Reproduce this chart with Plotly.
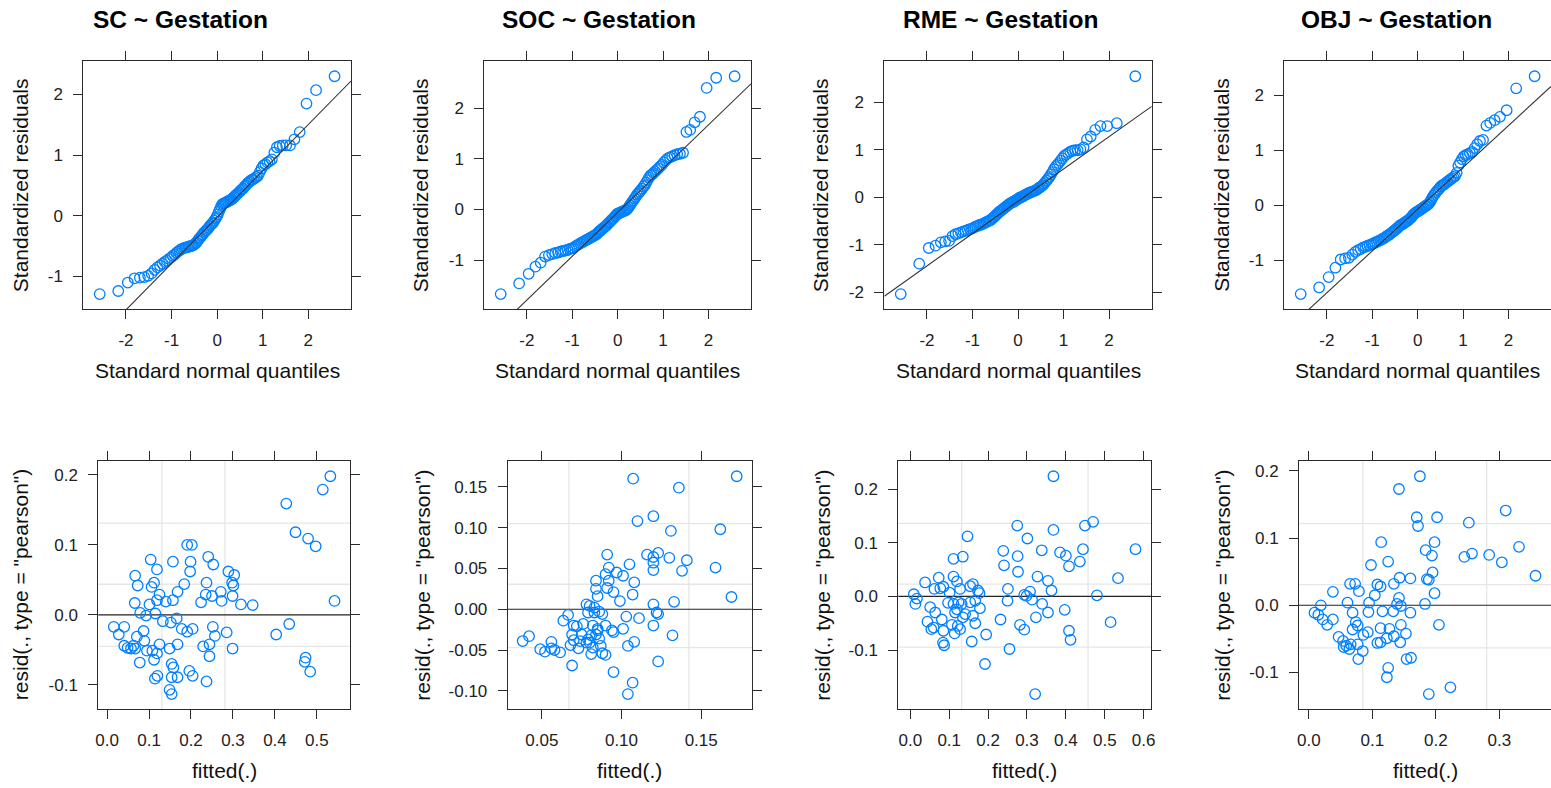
import plotly.graph_objects as go

W, H = 1551, 788
FONT = "Liberation Sans, Arial, Helvetica, sans-serif"
FRAME = "#2b2b2b"
POINT = "#0080ff"
GRID = "#e6e6e6"

models = ["SC", "SOC", "RME", "OBJ"]

# theoretical standard normal quantiles for n = 100
normal_quantiles = [
    -2.576, -2.170, -1.960, -1.812, -1.695, -1.598, -1.514, -1.440, -1.372, -1.311,
    -1.254, -1.200, -1.150, -1.103, -1.058, -1.015, -0.974, -0.935, -0.896, -0.860,
    -0.824, -0.789, -0.755, -0.722, -0.690, -0.659, -0.628, -0.598, -0.568, -0.539,
    -0.510, -0.482, -0.454, -0.426, -0.399, -0.372, -0.345, -0.319, -0.292, -0.266,
    -0.240, -0.215, -0.189, -0.164, -0.138, -0.113, -0.088, -0.063, -0.038, -0.013,
    0.013, 0.038, 0.063, 0.088, 0.113, 0.138, 0.164, 0.189, 0.215, 0.240,
    0.266, 0.292, 0.319, 0.345, 0.372, 0.399, 0.426, 0.454, 0.482, 0.510,
    0.539, 0.568, 0.598, 0.628, 0.659, 0.690, 0.722, 0.755, 0.789, 0.824,
    0.860, 0.896, 0.935, 0.974, 1.015, 1.058, 1.103, 1.150, 1.200, 1.254,
    1.311, 1.372, 1.440, 1.514, 1.598, 1.695, 1.812, 1.960, 2.170, 2.576,
]

# sorted standardized residuals per model
sc_std_resid = [
    -1.29, -1.24, -1.10, -1.03, -1.02, -1.01, -0.99, -0.95, -0.89, -0.85,
    -0.82, -0.79, -0.76, -0.74, -0.71, -0.69, -0.66, -0.64, -0.61, -0.59,
    -0.57, -0.55, -0.54, -0.53, -0.52, -0.52, -0.51, -0.50, -0.50, -0.49,
    -0.48, -0.46, -0.44, -0.41, -0.38, -0.36, -0.33, -0.31, -0.28, -0.26,
    -0.24, -0.22, -0.20, -0.17, -0.15, -0.13, -0.11, -0.08, -0.05, -0.02,
    0.02, 0.07, 0.11, 0.16, 0.19, 0.20, 0.21, 0.22, 0.23, 0.24,
    0.25, 0.26, 0.27, 0.29, 0.31, 0.33, 0.35, 0.37, 0.39, 0.41,
    0.43, 0.45, 0.48, 0.50, 0.53, 0.55, 0.57, 0.59, 0.60, 0.62,
    0.64, 0.66, 0.72, 0.78, 0.83, 0.85, 0.88, 0.90, 0.93, 1.04,
    1.13, 1.15, 1.16, 1.16, 1.16, 1.26, 1.38, 1.85, 2.07, 2.30,
]
soc_std_resid = [
    -1.67, -1.46, -1.27, -1.13, -1.05, -0.93, -0.90, -0.88, -0.86, -0.85,
    -0.83, -0.82, -0.81, -0.80, -0.78, -0.77, -0.76, -0.73, -0.71, -0.69,
    -0.67, -0.65, -0.64, -0.62, -0.60, -0.59, -0.57, -0.56, -0.54, -0.53,
    -0.51, -0.50, -0.48, -0.45, -0.43, -0.41, -0.39, -0.37, -0.35, -0.33,
    -0.31, -0.28, -0.26, -0.24, -0.21, -0.19, -0.17, -0.14, -0.12, -0.09,
    -0.08, -0.07, -0.06, -0.05, -0.04, -0.03, -0.02, -0.01, 0.01, 0.04,
    0.08, 0.11, 0.15, 0.18, 0.22, 0.25, 0.29, 0.32, 0.35, 0.38,
    0.41, 0.45, 0.48, 0.53, 0.58, 0.63, 0.67, 0.69, 0.72, 0.75,
    0.78, 0.81, 0.85, 0.88, 0.93, 0.97, 1.01, 1.03, 1.05, 1.07,
    1.09, 1.10, 1.12, 1.53, 1.57, 1.72, 1.83, 2.40, 2.60, 2.63,
]
rme_std_resid = [
    -2.04, -1.40, -1.07, -1.02, -0.95, -0.93, -0.92, -0.82, -0.78, -0.76,
    -0.74, -0.72, -0.71, -0.69, -0.67, -0.66, -0.64, -0.62, -0.61, -0.59,
    -0.58, -0.57, -0.55, -0.54, -0.52, -0.51, -0.49, -0.48, -0.45, -0.43,
    -0.40, -0.37, -0.35, -0.32, -0.30, -0.28, -0.26, -0.24, -0.22, -0.20,
    -0.18, -0.16, -0.14, -0.13, -0.11, -0.10, -0.09, -0.07, -0.06, -0.04,
    -0.03, -0.01, 0.00, 0.01, 0.02, 0.04, 0.05, 0.06, 0.08, 0.09,
    0.10, 0.11, 0.12, 0.13, 0.14, 0.15, 0.17, 0.19, 0.21, 0.23,
    0.25, 0.28, 0.32, 0.35, 0.39, 0.43, 0.48, 0.53, 0.59, 0.64,
    0.68, 0.72, 0.77, 0.82, 0.87, 0.90, 0.93, 0.96, 0.98, 0.99,
    0.99, 1.01, 1.05, 1.22, 1.28, 1.42, 1.50, 1.50, 1.56, 2.55,
]
obj_std_resid = [
    -1.62, -1.50, -1.31, -1.14, -0.99, -0.97, -0.96, -0.90, -0.85, -0.82,
    -0.80, -0.77, -0.76, -0.74, -0.73, -0.71, -0.70, -0.68, -0.67, -0.65,
    -0.64, -0.62, -0.61, -0.59, -0.57, -0.55, -0.54, -0.52, -0.50, -0.48,
    -0.46, -0.44, -0.42, -0.40, -0.38, -0.36, -0.35, -0.34, -0.32, -0.31,
    -0.29, -0.28, -0.26, -0.24, -0.22, -0.19, -0.17, -0.15, -0.13, -0.12,
    -0.11, -0.09, -0.08, -0.07, -0.05, -0.04, -0.02, -0.01, 0.01, 0.02,
    0.05, 0.09, 0.13, 0.17, 0.20, 0.23, 0.26, 0.28, 0.31, 0.34,
    0.36, 0.37, 0.39, 0.41, 0.43, 0.45, 0.47, 0.49, 0.51, 0.53,
    0.59, 0.72, 0.78, 0.84, 0.89, 0.91, 0.93, 0.95, 0.97, 1.04,
    1.11, 1.17, 1.19, 1.45, 1.50, 1.55, 1.61, 1.73, 2.13, 2.35,
]

# reference line through the quartiles (intercept, slope)
qq_intercept = [-0.023, -0.059, -0.085, -0.073]
qq_slope = [0.764, 0.865, 0.681, 0.762]

# fitted values and Pearson residuals
sc_fitted = [
    0.532, 0.514, 0.427, 0.449, 0.479, 0.497, 0.542, 0.403, 0.434, 0.473, 0.471, 0.484,
    0.191, 0.202, 0.199, 0.198, 0.157, 0.104, 0.119, 0.067, 0.073, 0.112, 0.106, 0.241,
    0.253, 0.289, 0.303, 0.298, 0.301, 0.299, 0.237, 0.235, 0.250, 0.271, 0.273, 0.224,
    0.319, 0.347, 0.184, 0.168, 0.157, 0.125, 0.119, 0.140, 0.066, 0.101, 0.079, 0.093,
    0.115, 0.133, 0.152, 0.166, 0.178, 0.191, 0.204, 0.016, 0.028, 0.041, 0.087, 0.089,
    0.071, 0.041, 0.049, 0.057, 0.063, 0.067, 0.095, 0.108, 0.125, 0.119, 0.112, 0.078,
    0.149, 0.168, 0.252, 0.257, 0.285, 0.299, 0.229, 0.244, 0.244, 0.154, 0.158, 0.154,
    0.168, 0.120, 0.114, 0.196, 0.204, 0.237, 0.149, 0.154,
]
sc_pearson = [
    0.198, 0.179, 0.159, 0.118, 0.109, 0.098, 0.020, -0.028, -0.013, -0.061, -0.067, -0.081,
    0.100, 0.100, 0.076, 0.062, 0.076, 0.079, 0.065, 0.056, 0.042, 0.046, 0.040, 0.083,
    0.072, 0.062, 0.057, 0.046, 0.042, 0.027, 0.046, 0.029, 0.027, 0.033, 0.020, 0.018,
    0.015, 0.014, 0.044, 0.033, 0.021, 0.029, 0.021, 0.019, 0.017, 0.015, 0.003, -0.001,
    0.002, -0.009, -0.011, -0.005, -0.020, -0.024, -0.020, -0.017, -0.028, -0.017, -0.023, -0.037,
    -0.031, -0.044, -0.047, -0.048, -0.044, -0.048, -0.051, -0.051, -0.042, -0.055, -0.064, -0.068,
    -0.048, -0.042, -0.017, -0.030, -0.025, -0.048, -0.045, -0.042, -0.059, -0.070, -0.075, -0.089,
    -0.089, -0.087, -0.091, -0.080, -0.087, -0.095, -0.107, -0.113,
]

soc_fitted = [
    0.1073, 0.1723, 0.136, 0.120, 0.110, 0.131, 0.162, 0.091, 0.116, 0.120, 0.123, 0.130,
    0.141, 0.120, 0.120, 0.138, 0.159, 0.105, 0.092, 0.090, 0.097, 0.101, 0.084, 0.092,
    0.108, 0.084, 0.091, 0.095, 0.085, 0.107, 0.099, 0.169, 0.133, 0.120, 0.078, 0.080,
    0.083, 0.079, 0.083, 0.086, 0.088, 0.103, 0.111, 0.123, 0.122, 0.0665, 0.0635, 0.070,
    0.072, 0.076, 0.082, 0.085, 0.090, 0.120, 0.101, 0.094, 0.095, 0.069, 0.075, 0.081,
    0.084, 0.085, 0.086, 0.079, 0.074, 0.070, 0.068, 0.073, 0.080, 0.087, 0.082, 0.081,
    0.088, 0.090, 0.104, 0.108, 0.132, 0.123, 0.038, 0.042, 0.049, 0.052, 0.056, 0.056,
    0.058, 0.0615, 0.069, 0.095, 0.107, 0.104, 0.078,
]
soc_pearson = [
    0.160, 0.163, 0.149, 0.114, 0.108, 0.096, 0.098, 0.067, 0.067, 0.064, 0.069, 0.063,
    0.060, 0.057, 0.048, 0.047, 0.051, 0.055, 0.051, 0.043, 0.045, 0.041, 0.035, 0.035,
    0.033, 0.025, 0.026, 0.021, 0.016, 0.018, 0.010, 0.015, 0.009, 0.006, 0.006, 0.004,
    0.002, -0.004, -0.004, -0.003, -0.006, -0.009, -0.011, -0.006, -0.004, -0.007, -0.014, -0.020,
    -0.021, -0.018, -0.020, -0.024, -0.020, -0.020, -0.024, -0.026, -0.028, -0.031, -0.031, -0.032,
    -0.031, -0.026, -0.036, -0.037, -0.039, -0.038, -0.044, -0.048, -0.041, -0.045, -0.047, -0.055,
    -0.054, -0.056, -0.045, -0.040, -0.032, -0.064, -0.039, -0.033, -0.049, -0.052, -0.048, -0.040,
    -0.050, -0.053, -0.069, -0.077, -0.090, -0.104, -0.041,
]

rme_fitted = [
    0.368, 0.275, 0.368, 0.449, 0.470, 0.301, 0.147, 0.239, 0.338, 0.385, 0.400, 0.444,
    0.579, 0.276, 0.111, 0.135, 0.241, 0.408, 0.436, 0.277, 0.327, 0.534, 0.354, 0.073,
    0.038, 0.111, 0.120, 0.154, 0.161, 0.085, 0.062, 0.077, 0.128, 0.174, 0.178, 0.251,
    0.308, 0.363, 0.009, 0.017, 0.013, 0.101, 0.299, 0.293, 0.480, 0.313, 0.250, 0.097,
    0.111, 0.124, 0.132, 0.154, 0.167, 0.115, 0.120, 0.064, 0.051, 0.135, 0.161, 0.141,
    0.179, 0.339, 0.354, 0.397, 0.323, 0.232, 0.167, 0.044, 0.060, 0.054, 0.081, 0.085,
    0.107, 0.122, 0.114, 0.128, 0.282, 0.293, 0.515, 0.408, 0.412, 0.195, 0.158, 0.084,
    0.087, 0.255, 0.192, 0.321,
]
rme_pearson = [
    0.224, 0.132, 0.124, 0.132, 0.139, 0.108, 0.112, 0.085, 0.086, 0.082, 0.076, 0.088,
    0.088, 0.075, 0.070, 0.074, 0.058, 0.056, 0.065, 0.046, 0.037, 0.034, 0.029, 0.035,
    0.026, 0.037, 0.028, 0.019, 0.023, 0.018, 0.014, 0.015, 0.014, 0.011, 0.006, 0.014,
    0.009, 0.011, 0.004, -0.004, -0.014, 0.007, 0.001, 0.003, 0.002, -0.006, -0.008, -0.012,
    -0.014, -0.011, -0.014, -0.011, -0.008, -0.030, -0.024, -0.030, -0.020, -0.039, -0.036, -0.033,
    -0.022, -0.014, -0.030, -0.025, -0.039, -0.043, -0.050, -0.047, -0.058, -0.061, -0.043, -0.064,
    -0.053, -0.055, -0.069, -0.061, -0.053, -0.062, -0.048, -0.064, -0.081, -0.071, -0.084, -0.086,
    -0.091, -0.098, -0.126, -0.182,
]

obj_fitted = [
    0.175, 0.142, 0.170, 0.172, 0.202, 0.310, 0.252, 0.114, 0.198, 0.184, 0.194, 0.331,
    0.245, 0.257, 0.284, 0.304, 0.125, 0.098, 0.195, 0.186, 0.189, 0.160, 0.143, 0.357,
    0.134, 0.065, 0.073, 0.079, 0.108, 0.113, 0.104, 0.038, 0.198, 0.095, 0.061, 0.142,
    0.139, 0.145, 0.183, 0.019, 0.009, 0.015, 0.022, 0.029, 0.038, 0.069, 0.094, 0.116,
    0.133, 0.160, 0.205, 0.074, 0.077, 0.069, 0.093, 0.113, 0.127, 0.145, 0.153, 0.144,
    0.123, 0.113, 0.086, 0.047, 0.054, 0.059, 0.064, 0.055, 0.066, 0.077, 0.085, 0.078,
    0.154, 0.161, 0.125, 0.123, 0.223, 0.189, 0.108, 0.134,
]
obj_pearson = [
    0.192, 0.173, 0.131, 0.118, 0.131, 0.141, 0.123, 0.094, 0.094, 0.082, 0.074, 0.087,
    0.072, 0.077, 0.075, 0.064, 0.065, 0.060, 0.049, 0.039, 0.038, 0.040, 0.041, 0.044,
    0.032, 0.032, 0.032, 0.021, 0.031, 0.028, 0.015, 0.020, 0.018, 0.004, 0.004, 0.011,
    0.002, -0.001, 0.002, 0.000, -0.011, -0.014, -0.021, -0.029, -0.021, -0.011, -0.010, -0.009,
    -0.009, -0.011, -0.029, -0.025, -0.030, -0.036, -0.040, -0.034, -0.035, -0.029, -0.042, -0.055,
    -0.049, -0.055, -0.044, -0.047, -0.053, -0.060, -0.065, -0.062, -0.058, -0.058, -0.068, -0.080,
    -0.080, -0.078, -0.093, -0.107, -0.122, -0.132, -0.056, -0.046,
]

# light reference grid inside the residual panels
grid_v = [[0.1306, 0.281], [0.067, 0.1423], [0.132, 0.457], [0.085, 0.280]]
grid_h = [[0.131, 0.0438, -0.045], [0.105, 0.0306, -0.047],
          [0.136, 0.0228, -0.0946], [0.1216, 0.0308, -0.0634]]

# tick values and labels
qq_xticks = [-2, -1, 0, 1, 2]
qq_xlabels = ["-2", "-1", "0", "1", "2"]
qq_yticks = [[-1, 0, 1, 2], [-1, 0, 1, 2], [-2, -1, 0, 1, 2], [-1, 0, 1, 2]]
qq_ylabels = [["-1", "0", "1", "2"], ["-1", "0", "1", "2"],
              ["-2", "-1", "0", "1", "2"], ["-1", "0", "1", "2"]]
res_xticks = [[0.0, 0.1, 0.2, 0.3, 0.4, 0.5], [0.05, 0.10, 0.15],
              [0.0, 0.1, 0.2, 0.3, 0.4, 0.5, 0.6], [0.0, 0.1, 0.2, 0.3]]
res_xlabels = [["0.0", "0.1", "0.2", "0.3", "0.4", "0.5"], ["0.05", "0.10", "0.15"],
               ["0.0", "0.1", "0.2", "0.3", "0.4", "0.5", "0.6"], ["0.0", "0.1", "0.2", "0.3"]]
res_yticks = [[-0.1, 0.0, 0.1, 0.2], [-0.10, -0.05, 0.0, 0.05, 0.10, 0.15],
              [-0.1, 0.0, 0.1, 0.2], [-0.1, 0.0, 0.1, 0.2]]
res_ylabels = [["-0.1", "0.0", "0.1", "0.2"], ["-0.10", "-0.05", "0.00", "0.05", "0.10", "0.15"],
               ["-0.1", "0.0", "0.1", "0.2"], ["-0.1", "0.0", "0.1", "0.2"]]

std_resids = [sc_std_resid, soc_std_resid, rme_std_resid, obj_std_resid]
fitted_vals = [sc_fitted, soc_fitted, rme_fitted, obj_fitted]
pearson_vals = [sc_pearson, soc_pearson, rme_pearson, obj_pearson]

# panel boxes in pixels: (left, right)
top_box_x = [(83.3, 351.0), (484.3, 751.0), (884.3, 1151.7), (1284.3, 1551.0)]
bot_box_x = [(98.3, 350.0), (507.7, 751.7), (898.3, 1151.0), (1299.0, 1551.0)]
top_box_y = (61.0, 309.3)
bot_box_y = (461.0, 709.3)
title_cx = [180, 598.5, 1000.3, 1396.7]
top_ylab_x = [20, 420, 820, 1220.7]
bot_ylab_x = [20, 421.7, 821.7, 1221.7]


def px_x(v):
    return v / W


def px_y(v):
    return 1 - v / H


def padded(vals, frac=0.07):
    lo, hi = min(vals), max(vals)
    span = hi - lo
    return [lo - frac * span, hi + frac * span]


def axis_style(domain, rng, tickvals, ticktext, anchor, standoff):
    return dict(
        domain=domain, range=rng, anchor=anchor,
        tickmode="array", tickvals=tickvals, ticktext=ticktext,
        showline=True, linecolor=FRAME, linewidth=1, mirror="ticks",
        ticks="outside", ticklen=9, tickwidth=1, tickcolor=FRAME,
        showgrid=False, zeroline=False, automargin=False, fixedrange=True,
        tickfont=dict(family=FONT, size=17, color="#222222"),
        ticklabelstandoff=standoff,
    )


fig = go.Figure()
layout = {}
shapes = []
annotations = []
marker = dict(symbol="circle-open", size=10.5, color=POINT, line=dict(color=POINT, width=1.3))
txt_font = dict(family=FONT, size=21, color="#111111")

for i, name in enumerate(models):
    # --- normal QQ panel ---
    k = i + 1
    xr = padded(normal_quantiles)
    yr = padded(std_resids[i])
    layout[f"xaxis{k}"] = axis_style([px_x(top_box_x[i][0]), px_x(top_box_x[i][1])], xr,
                                     qq_xticks, qq_xlabels, f"y{k}", 6)
    layout[f"yaxis{k}"] = axis_style([px_y(top_box_y[1]), px_y(top_box_y[0])], yr,
                                     qq_yticks[i], qq_ylabels[i], f"x{k}", 7)
    fig.add_trace(go.Scatter(x=normal_quantiles, y=std_resids[i], mode="markers",
                             marker=marker, xaxis=f"x{k}", yaxis=f"y{k}",
                             showlegend=False, hoverinfo="skip"))
    fig.add_trace(go.Scatter(x=xr, y=[qq_intercept[i] + qq_slope[i] * v for v in xr],
                             mode="lines", line=dict(color="#333333", width=1.1),
                             xaxis=f"x{k}", yaxis=f"y{k}", showlegend=False, hoverinfo="skip"))

    annotations.append(dict(text=f"<b>{name} ~ Gestation</b>", x=px_x(title_cx[i]), y=px_y(19),
                            xref="paper", yref="paper", showarrow=False,
                            xanchor="center", yanchor="middle",
                            font=dict(family=FONT, size=24.5, color="#000000")))
    annotations.append(dict(text="Standard normal quantiles",
                            x=px_x(sum(top_box_x[i]) / 2), y=px_y(370),
                            xref="paper", yref="paper", showarrow=False,
                            xanchor="center", yanchor="middle", font=txt_font))
    annotations.append(dict(text="Standardized residuals", textangle=-90,
                            x=px_x(top_ylab_x[i]), y=px_y(sum(top_box_y) / 2),
                            xref="paper", yref="paper", showarrow=False,
                            xanchor="center", yanchor="middle", font=txt_font))

    # --- residuals vs fitted panel ---
    k = i + 5
    xr = padded(fitted_vals[i])
    yr = padded(pearson_vals[i])
    layout[f"xaxis{k}"] = axis_style([px_x(bot_box_x[i][0]), px_x(bot_box_x[i][1])], xr,
                                     res_xticks[i], res_xlabels[i], f"y{k}", 6)
    layout[f"yaxis{k}"] = axis_style([px_y(bot_box_y[1]), px_y(bot_box_y[0])], yr,
                                     res_yticks[i], res_ylabels[i], f"x{k}", 7)
    for gx in grid_v[i]:
        shapes.append(dict(type="line", xref=f"x{k}", yref=f"y{k} domain", x0=gx, x1=gx,
                           y0=0, y1=1, layer="below", line=dict(color=GRID, width=1.3)))
    for gy in grid_h[i]:
        shapes.append(dict(type="line", xref=f"x{k} domain", yref=f"y{k}", x0=0, x1=1,
                           y0=gy, y1=gy, layer="below", line=dict(color=GRID, width=1.3)))
    shapes.append(dict(type="line", xref=f"x{k} domain", yref=f"y{k}", x0=0, x1=1,
                       y0=0, y1=0, layer="below", line=dict(color="#222222", width=1.1)))
    fig.add_trace(go.Scatter(x=fitted_vals[i], y=pearson_vals[i], mode="markers",
                             marker=marker, xaxis=f"x{k}", yaxis=f"y{k}",
                             showlegend=False, hoverinfo="skip"))

    annotations.append(dict(text="fitted(.)", x=px_x(sum(bot_box_x[i]) / 2), y=px_y(770),
                            xref="paper", yref="paper", showarrow=False,
                            xanchor="center", yanchor="middle", font=txt_font))
    annotations.append(dict(text='resid(., type = "pearson")', textangle=-90,
                            x=px_x(bot_ylab_x[i]), y=px_y(sum(bot_box_y) / 2),
                            xref="paper", yref="paper", showarrow=False,
                            xanchor="center", yanchor="middle", font=txt_font))

fig.update_layout(
    width=W, height=H,
    margin=dict(l=0, r=0, t=0, b=0, pad=0),
    template="none",
    paper_bgcolor="white", plot_bgcolor="white",
    font=dict(family=FONT, color="#111111"),
    showlegend=False,
    shapes=shapes, annotations=annotations,
    **layout,
)

fig.write_html("out.html", config={"displayModeBar": False})
